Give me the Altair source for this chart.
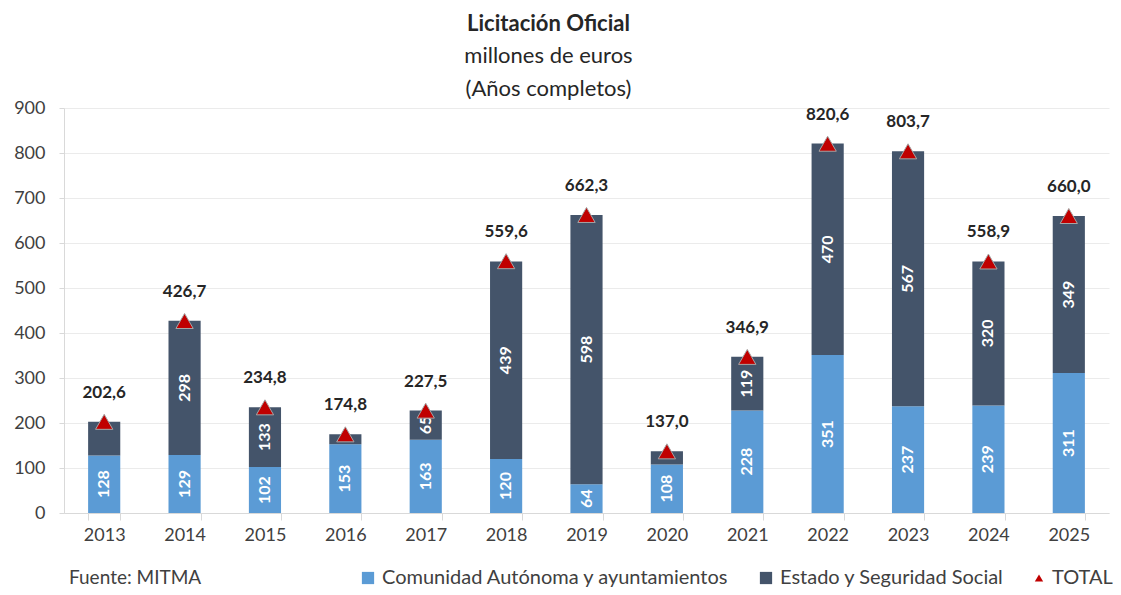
import altair as alt
import pandas as pd

years = ["2013", "2014", "2015", "2016", "2017", "2018", "2019", "2020", "2021", "2022", "2023", "2024", "2025"]
light = [128, 129, 102, 153, 163, 120, 64, 108, 228, 351, 237, 239, 311]
dark = [75, 298, 133, 22, 65, 439, 598, 29, 119, 470, 567, 320, 349]
dark_shown = [False, True, True, False, True, True, True, False, True, True, True, True, True]
total = [202.6, 426.7, 234.8, 174.8, 227.5, 559.6, 662.3, 137.0, 346.9, 820.6, 803.7, 558.9, 660.0]
total_labels = ["202,6", "426,7", "234,8", "174,8", "227,5", "559,6", "662,3", "137,0", "346,9", "820,6", "803,7", "558,9", "660,0"]

S1 = "Comunidad Autónoma y ayuntamientos"
S2 = "Estado y Seguridad Social"
FONT = "Lato"

rows = []
for i, y in enumerate(years):
    rows.append({"year": y, "serie": S1, "ord": 1, "value": light[i], "mid": light[i] / 2,
                 "lab": str(light[i])})
    rows.append({"year": y, "serie": S2, "ord": 2, "value": dark[i], "mid": light[i] + dark[i] / 2,
                 "lab": str(dark[i]) if dark_shown[i] else ""})
bars_df = pd.DataFrame(rows)
tot_df = pd.DataFrame({"year": years, "total": total, "tlab": total_labels, "k": ["TOTAL"] * len(years)})

xenc = alt.X("year:O", title=None,
             scale=alt.Scale(paddingInner=0.6, paddingOuter=0.3),
             axis=alt.Axis(labelAngle=0, tickBand="extent", tickSize=7, tickColor="#D9D9D9",
                           domainColor="#D9D9D9", labelFontSize=18, labelColor="#404040",
                           labelFont=FONT, labelPadding=6))
yscale = alt.Scale(domain=[0, 900], nice=False)

LEG_Y = 460

bars = alt.Chart(bars_df).mark_bar().encode(
    x=xenc,
    y=alt.Y("value:Q", stack="zero", scale=yscale, title=None,
            axis=alt.Axis(values=list(range(0, 901, 100)), tickSize=5, tickColor="#D9D9D9",
                          domainColor="#D9D9D9", gridColor="#EBEBEB", labelFontSize=18,
                          labelColor="#404040", labelFont=FONT, labelPadding=14)),
    color=alt.Color("serie:N", scale=alt.Scale(domain=[S1, S2], range=["#5B9BD5", "#44546A"]),
                    legend=alt.Legend(title=None, orient="none", direction="horizontal",
                                      legendX=294, legendY=LEG_Y, symbolType="square",
                                      symbolSize=150, labelFontSize=20, labelFont=FONT,
                                      labelColor="#404040", labelLimit=500, columnPadding=26,
                                      symbolStrokeWidth=0, labelOffset=4)),
    order=alt.Order("ord:Q"),
)

seg_labels = alt.Chart(bars_df).mark_text(
    angle=270, color="white", fontWeight="bold", fontSize=16, font=FONT, baseline="middle", align="center"
).encode(x="year:O", y=alt.Y("mid:Q", scale=yscale), text="lab:N")

tri = alt.Chart(tot_df).mark_point(
    filled=True, fill="#C00000", stroke="#A6A6A6", strokeWidth=1, opacity=1, size=300
).encode(
    x="year:O", y=alt.Y("total:Q", scale=yscale),
    shape=alt.Shape("k:N", scale=alt.Scale(domain=["TOTAL"], range=["triangle-up"]),
                    legend=alt.Legend(title=None, orient="none", legendX=965, legendY=LEG_Y,
                                      symbolSize=70, symbolFillColor="#C00000",
                                      symbolStrokeColor="#A6A6A6", labelFontSize=20, labelFont=FONT,
                                      labelColor="#404040", labelOffset=3)),
)

tot_labels = alt.Chart(tot_df).mark_text(
    fontWeight="bold", fontSize=17, font=FONT, color="#262626", dy=-29, baseline="middle"
).encode(x="year:O", y=alt.Y("total:Q", scale=yscale), text="tlab:N")

source = alt.Chart(pd.DataFrame({"t": ["Fuente: MITMA"]})).mark_text(
    fontSize=19, font=FONT, color="#404040", align="left", baseline="middle"
).encode(x=alt.value(5), y=alt.value(LEG_Y + 10), text="t:N")

chart = alt.layer(bars, seg_labels, tri, tot_labels, source).properties(
    width=1045, height=405,
    padding={"top": 5, "left": 5, "right": 0, "bottom": -1},
    title=alt.TitleParams(text="Licitación Oficial", subtitle=["millones de euros", "(Años completos)"],
                          font=FONT, fontSize=22, fontWeight="bold", color="#262626",
                          subtitleFont=FONT, subtitleFontSize=22, subtitleColor="#262626",
                          subtitleLineHeight=33, subtitlePadding=10, anchor="middle", dx=-38, offset=-2),
).configure_view(stroke=None).resolve_legend(color="independent", shape="independent")

chart.save("out.html", embed_options={"renderer": "svg", "actions": False})
